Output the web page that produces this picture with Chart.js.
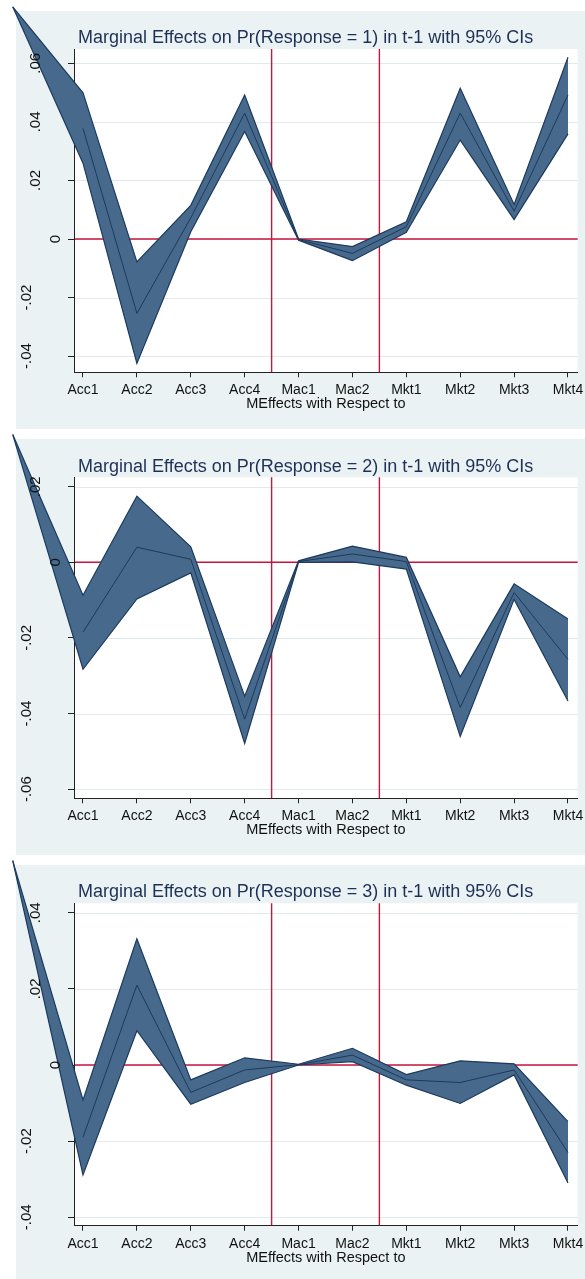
<!DOCTYPE html>
<html>
<head>
<meta charset="utf-8">
<title>Marginal effects</title>
<script src="https://cdn.jsdelivr.net/npm/chart.js@4.4.1/dist/chart.umd.min.js"></script>
<style>
  body { margin: 0; background: #ffffff; }
  canvas { display: block; }
</style>
</head>
<body>
<canvas id="me1" width="585" height="432"></canvas>
<canvas id="me2" width="585" height="425"></canvas>
<canvas id="me3" width="585" height="422"></canvas>
<script>
/* categories on the x axis */
const categories = ["Acc1", "Acc2", "Acc3", "Acc4", "Mac1", "Mac2", "Mkt1", "Mkt2", "Mkt3", "Mkt4"];
const xTitle = "MEffects with Respect to";
const titles = [
    "Marginal Effects on Pr(Response = 1) in t-1 with 95% CIs",
    "Marginal Effects on Pr(Response = 2) in t-1 with 95% CIs",
    "Marginal Effects on Pr(Response = 3) in t-1 with 95% CIs"
];

/* response = 1 */
const me1 = [0.0378, -0.0254, 0.0072, 0.0430, -0.0002, -0.0049, 0.0042, 0.0430, 0.0095, 0.0492];
const hi1 = [0.0499, -0.0078, 0.0115, 0.0492, 0.0000, -0.0026, 0.0059, 0.0515, 0.0118, 0.0621];
const lo1 = [0.0259, -0.0425, 0.0025, 0.0367, -0.0004, -0.0074, 0.0023, 0.0338, 0.0066, 0.0359];
const yTicks1 = [-0.04, -0.02, 0, 0.02, 0.04, 0.06];

/* response = 2 */
const me2 = [-0.0185, 0.0040, 0.0008, -0.0415, 0.0002, 0.0022, 0.0002, -0.0384, -0.0080, -0.0257];
const hi2 = [-0.0087, 0.0175, 0.0041, -0.0354, 0.0004, 0.0043, 0.0013, -0.0303, -0.0057, -0.0150];
const lo2 = [-0.0283, -0.0097, -0.0028, -0.0479, 0.0000, 0.0001, -0.0018, -0.0461, -0.0098, -0.0367];
const yTicks2 = [-0.06, -0.04, -0.02, 0, 0.02];

/* response = 3 */
const me3 = [-0.0190, 0.0210, -0.0072, -0.0013, 0.0001, 0.0026, -0.0039, -0.0046, -0.0013, -0.0230];
const hi3 = [-0.0092, 0.0332, -0.0039, 0.0019, 0.0002, 0.0044, -0.0025, 0.0011, 0.0003, -0.0149];
const lo3 = [-0.0289, 0.0090, -0.0103, -0.0046, 0.0000, 0.0009, -0.0053, -0.0101, -0.0026, -0.0310];
const yTicks3 = [-0.04, -0.02, 0, 0.02, 0.04];

/* the stray first vertex of each CI area, off to the left of the plot */
const strayX = -0.304;
const strayY = [0.0793, 0.0338, 0.0537];

/* vertical reference lines between groups */
const refLines = [4.5, 6.5];

const FONT = '"Liberation Sans", Arial, Helvetica, sans-serif';
Chart.defaults.font.family = FONT;

const bandFill = '#476a8c';
const bandEdge = '#1b3a5e';
const refRed = '#c9143c';

function yLabel(v) {
    if (v === 0) return '0';
    return (v < 0 ? '-' : '') + Math.abs(v).toFixed(2).replace(/^0/, '');
}

const stataLook = {
    id: 'stataLook',
    beforeDraw(chart, args, opts) {
        const ctx = chart.ctx;
        const a = chart.chartArea;
        const x = chart.scales.x;
        const y = chart.scales.y;
        ctx.save();
        ctx.fillStyle = '#eaf2f3';
        ctx.fillRect(16, opts.bgTop, chart.width - 16, opts.bgBottom - opts.bgTop);
        ctx.fillStyle = '#ffffff';
        ctx.fillRect(a.left, a.top, a.right - a.left, a.bottom - a.top);

        /* grid lines */
        ctx.strokeStyle = '#e1e9eb';
        ctx.lineWidth = 1;
        y.ticks.forEach(t => {
            const py = Math.round(y.getPixelForValue(t.value)) + 0.5;
            ctx.beginPath();
            ctx.moveTo(a.left, py);
            ctx.lineTo(a.right, py);
            ctx.stroke();
        });

        /* red reference lines */
        ctx.strokeStyle = refRed;
        ctx.lineWidth = 1.4;
        const zy = y.getPixelForValue(0);
        ctx.beginPath();
        ctx.moveTo(a.left, zy);
        ctx.lineTo(a.right, zy);
        ctx.stroke();
        refLines.forEach(v => {
            const px = x.getPixelForValue(v);
            ctx.beginPath();
            ctx.moveTo(px, a.top);
            ctx.lineTo(px, a.bottom);
            ctx.stroke();
        });

        /* title */
        ctx.fillStyle = '#1f3056';
        ctx.font = '18px ' + FONT;
        ctx.textAlign = 'left';
        ctx.textBaseline = 'alphabetic';
        ctx.fillText(opts.title, 78, opts.titleY);
        ctx.restore();
    },
    beforeDatasetsDraw(chart) {
        /* CI area: upper edge forward, lower edge back, not clipped */
        const ctx = chart.ctx;
        const up = chart.getDatasetMeta(0).data;
        const lo = chart.getDatasetMeta(1).data;
        ctx.save();
        ctx.beginPath();
        up.forEach((p, i) => i ? ctx.lineTo(p.x, p.y) : ctx.moveTo(p.x, p.y));
        for (let i = lo.length - 1; i >= 0; i--) ctx.lineTo(lo[i].x, lo[i].y);
        ctx.closePath();
        ctx.fillStyle = bandFill;
        ctx.fill();
        ctx.restore();
    },
    afterDraw(chart) {
        /* vertical y labels, placed the way Stata places them */
        const ctx = chart.ctx;
        const y = chart.scales.y;
        ctx.save();
        ctx.fillStyle = '#111111';
        ctx.font = '15px ' + FONT;
        ctx.textAlign = 'center';
        ctx.textBaseline = 'middle';
        y.ticks.forEach(t => {
            const label = yLabel(t.value);
            const w = ctx.measureText(label).width;
            ctx.save();
            ctx.translate(69.4 - 1.63 * w, y.getPixelForValue(t.value));
            ctx.rotate(-Math.PI / 2);
            ctx.fillText(label, 0, 0);
            ctx.restore();
        });
        ctx.restore();
    }
};

function points(arr) {
    return arr.map((v, i) => ({x: i + 1, y: v}));
}

function drawPanel(id, p) {
    const canvas = document.getElementById(id);
    const H = canvas.height;
    const edge = {borderColor: bandEdge, borderWidth: 1.2, pointRadius: 0, fill: false, tension: 0, clip: false};
    return new Chart(canvas, {
        type: 'line',
        data: {
            datasets: [
                Object.assign({data: [{x: strayX, y: p.stray}].concat(points(p.hi))}, edge),
                Object.assign({data: [{x: strayX, y: p.stray}].concat(points(p.lo))}, edge),
                {data: points(p.me), borderColor: bandEdge, borderWidth: 1, pointRadius: 0, fill: false, tension: 0}
            ]
        },
        options: {
            responsive: false,
            animation: false,
            events: [],
            layout: {padding: {top: p.plotTop, right: 7.3, bottom: 0, left: 0}},
            plugins: {
                legend: {display: false},
                tooltip: {enabled: false},
                stataLook: {bgTop: p.bgTop, bgBottom: p.bgBottom, title: p.title, titleY: p.titleY}
            },
            scales: {
                x: {
                    type: 'linear',
                    min: 0.833,
                    max: 10.18,
                    bounds: 'data',
                    z: 1,
                    afterBuildTicks: s => { s.ticks = categories.map((c, i) => ({value: i + 1})); },
                    afterFit: s => { s.height = H - p.plotBottom; s.paddingLeft = 0; s.paddingRight = 0; },
                    grid: {drawOnChartArea: false, drawTicks: true, tickLength: 5, color: '#222222'},
                    border: {color: '#222222', width: 1},
                    ticks: {
                        autoSkip: false, maxRotation: 0, minRotation: 0, padding: 4.6,
                        color: '#111111', font: {size: 14},
                        callback: v => categories[Math.round(v) - 1]
                    },
                    title: {
                        display: true, text: xTitle, color: '#111111', font: {size: 14.5},
                        padding: {top: 0, bottom: H - p.plotBottom - 32 - 8.7}
                    }
                },
                y: {
                    type: 'linear',
                    min: p.yMin,
                    max: p.yMax,
                    bounds: 'data',
                    z: 1,
                    afterBuildTicks: s => { s.ticks = p.ticks.map(v => ({value: v})); },
                    afterFit: s => { s.width = 74; s.paddingTop = 0; s.paddingBottom = 0; },
                    grid: {drawOnChartArea: false, drawTicks: true, tickLength: 6, color: '#222222'},
                    border: {color: '#222222', width: 1},
                    ticks: {display: false, callback: yLabel}
                }
            }
        },
        plugins: [stataLook]
    });
}

drawPanel('me1', {me: me1, hi: hi1, lo: lo1, ticks: yTicks1, stray: strayY[0], title: titles[0],
    yMin: -0.04553, yMax: 0.0649, bgTop: 11, bgBottom: 429, plotTop: 49, plotBottom: 372.3, titleY: 43.3});
drawPanel('me2', {me: me2, hi: hi2, lo: lo2, ticks: yTicks2, stray: strayY[1], title: titles[1],
    yMin: -0.06243, yMax: 0.02249, bgTop: 7, bgBottom: 423, plotTop: 45.3, plotBottom: 366.3, titleY: 39.7});
drawPanel('me3', {me: me3, hi: hi3, lo: lo3, ticks: yTicks3, stray: strayY[2], title: titles[2],
    yMin: -0.04223, yMax: 0.0425, bgTop: 8, bgBottom: 422, plotTop: 46.3, plotBottom: 368.7, titleY: 40.3});
</script>
</body>
</html>
